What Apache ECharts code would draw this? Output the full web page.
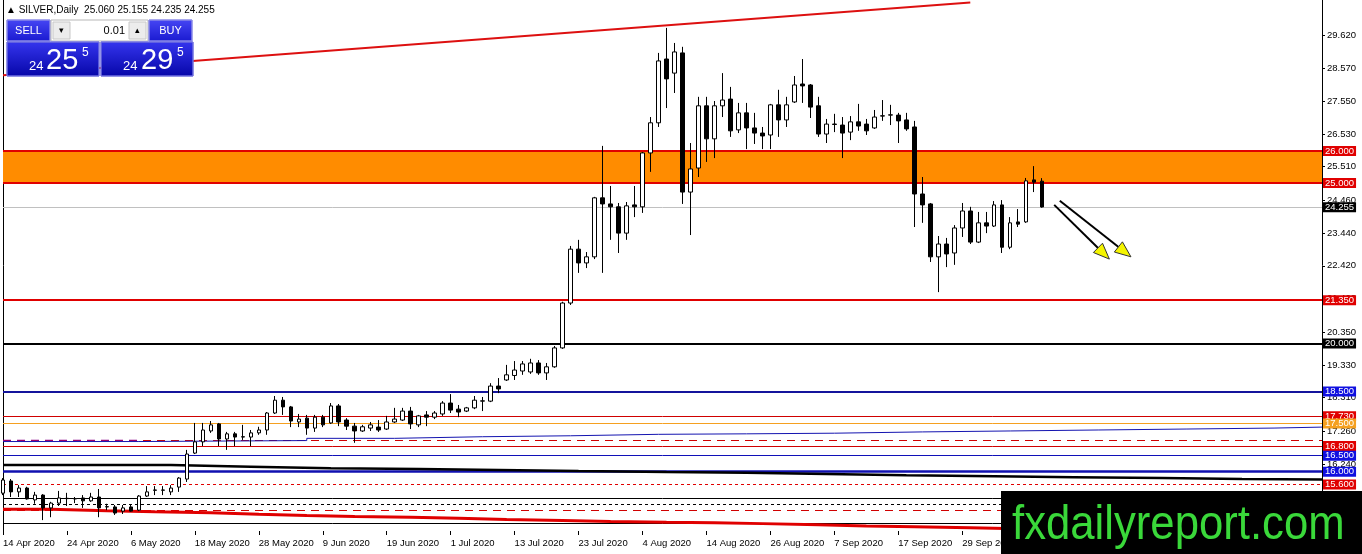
<!DOCTYPE html>
<html><head><meta charset="utf-8">
<script src="https://cdn.jsdelivr.net/npm/echarts@6/dist/echarts.min.js"></script>
<style>html,body{margin:0;padding:0;background:#fff;}#c{width:1362px;height:554px;}</style>
</head><body><div id="c"></div>
<script>
// ---- categories (trading days) ----
const dates = [
'14 Apr 2020','15 Apr 2020','16 Apr 2020','17 Apr 2020','20 Apr 2020','21 Apr 2020','22 Apr 2020','23 Apr 2020','24 Apr 2020','27 Apr 2020','28 Apr 2020','29 Apr 2020','30 Apr 2020',
'1 May 2020','4 May 2020','5 May 2020','6 May 2020','7 May 2020','8 May 2020','11 May 2020','12 May 2020','13 May 2020','14 May 2020','15 May 2020','18 May 2020','19 May 2020','20 May 2020','21 May 2020','22 May 2020','25 May 2020','26 May 2020','27 May 2020','28 May 2020','29 May 2020',
'1 Jun 2020','2 Jun 2020','3 Jun 2020','4 Jun 2020','5 Jun 2020','8 Jun 2020','9 Jun 2020','10 Jun 2020','11 Jun 2020','12 Jun 2020','15 Jun 2020','16 Jun 2020','17 Jun 2020','18 Jun 2020','19 Jun 2020','22 Jun 2020','23 Jun 2020','24 Jun 2020','25 Jun 2020','26 Jun 2020','29 Jun 2020','30 Jun 2020',
'1 Jul 2020','2 Jul 2020','3 Jul 2020','6 Jul 2020','7 Jul 2020','8 Jul 2020','9 Jul 2020','10 Jul 2020','13 Jul 2020','14 Jul 2020','15 Jul 2020','16 Jul 2020','17 Jul 2020','20 Jul 2020','21 Jul 2020','22 Jul 2020','23 Jul 2020','24 Jul 2020','27 Jul 2020','28 Jul 2020','29 Jul 2020','30 Jul 2020','31 Jul 2020',
'3 Aug 2020','4 Aug 2020','5 Aug 2020','6 Aug 2020','7 Aug 2020','10 Aug 2020','11 Aug 2020','12 Aug 2020','13 Aug 2020','14 Aug 2020','17 Aug 2020','18 Aug 2020','19 Aug 2020','20 Aug 2020','21 Aug 2020','24 Aug 2020','25 Aug 2020','26 Aug 2020','27 Aug 2020','28 Aug 2020','31 Aug 2020',
'1 Sep 2020','2 Sep 2020','3 Sep 2020','4 Sep 2020','7 Sep 2020','8 Sep 2020','9 Sep 2020','10 Sep 2020','11 Sep 2020','14 Sep 2020','15 Sep 2020','16 Sep 2020','17 Sep 2020','18 Sep 2020','21 Sep 2020','22 Sep 2020','23 Sep 2020','24 Sep 2020','25 Sep 2020','28 Sep 2020','29 Sep 2020','30 Sep 2020',
'1 Oct 2020','2 Oct 2020','5 Oct 2020','6 Oct 2020','7 Oct 2020','8 Oct 2020','9 Oct 2020','12 Oct 2020','13 Oct 2020'
];
const emptySlots = 35; // empty space right of the last bar

// ---- OHLC ----
const opens = [15.33,15.71,15.37,15.49,15.12,15.27,14.87,15.02,15.16,15.15,15.18,15.09,15.21,14.90,14.90,14.77,14.90,14.80,15.24,15.43,15.42,15.37,15.52,15.77,16.58,16.93,17.27,17.49,17.02,17.18,17.09,17.08,17.21,17.30,17.83,18.23,18.02,17.55,17.67,17.36,17.70,17.52,18.05,17.61,17.42,17.27,17.36,17.39,17.33,17.55,17.61,17.89,17.46,17.77,17.70,17.80,18.14,17.95,17.89,17.99,18.20,18.20,18.67,18.86,19.00,19.14,19.11,19.39,19.08,19.27,19.86,21.26,22.94,22.51,22.70,24.54,24.35,24.26,23.44,24.32,24.26,25.94,26.88,28.87,28.43,29.06,24.72,25.47,27.41,26.38,27.41,27.62,26.66,27.19,26.72,26.56,26.50,27.44,26.97,27.53,28.09,28.06,27.41,26.53,26.84,26.81,26.59,26.91,26.84,26.72,27.09,27.12,27.12,26.97,26.75,24.66,24.35,22.70,23.10,22.82,23.60,24.13,23.16,23.76,23.66,24.32,23.00,23.79,23.79,25.10,25.06];
const closes = [15.74,15.37,15.49,15.15,15.27,14.87,15.02,15.18,15.17,15.16,15.09,15.21,14.87,14.91,14.71,14.87,14.77,15.24,15.37,15.42,15.43,15.49,15.80,16.55,16.93,17.30,17.46,17.02,17.18,17.08,17.08,17.21,17.30,17.83,18.23,18.02,17.58,17.64,17.36,17.70,17.46,18.05,17.55,17.42,17.27,17.40,17.46,17.30,17.55,17.64,17.89,17.49,17.74,17.70,17.83,18.14,17.92,17.86,17.99,18.23,18.21,18.67,18.58,19.02,19.17,19.36,19.39,19.08,19.27,19.86,21.26,22.94,22.51,22.70,24.54,24.35,24.26,23.44,24.29,24.26,25.94,26.88,28.81,28.25,29.09,24.72,25.44,27.41,26.38,27.41,27.59,26.63,27.19,26.72,26.56,26.47,27.44,26.97,27.44,28.06,28.03,27.37,26.53,26.84,26.83,26.56,26.91,26.78,26.63,27.06,27.10,27.13,26.94,26.69,24.66,24.32,22.70,23.10,22.79,23.60,24.13,23.16,23.76,23.66,24.32,23.00,23.76,23.72,25.07,25.03,24.255];
const lows = [15.27,15.21,15.21,15.13,15.00,14.49,14.58,14.93,14.93,15.02,14.87,15.06,14.58,14.80,14.65,14.68,14.75,14.77,15.21,15.27,15.27,15.27,15.37,15.68,16.55,16.80,17.21,16.80,16.68,16.80,16.99,16.80,17.15,17.15,17.80,17.77,17.39,17.39,17.15,17.24,17.39,17.49,17.42,17.30,16.90,17.24,17.27,17.24,17.30,17.52,17.58,17.33,17.39,17.42,17.64,17.74,17.83,17.70,17.86,17.95,17.89,18.17,18.45,18.83,18.86,19.02,19.05,19.02,18.86,19.24,19.83,21.20,22.20,22.35,22.63,22.20,23.23,22.82,23.23,23.94,24.07,25.35,26.75,27.34,27.81,24.35,23.38,25.19,25.66,25.78,27.06,26.44,26.56,26.06,26.22,26.06,26.06,26.44,26.75,27.50,27.50,27.03,26.44,26.25,26.59,25.78,26.34,26.63,26.50,26.69,26.94,26.81,26.25,26.63,23.63,23.76,22.54,21.60,22.38,22.45,23.32,23.10,23.13,23.44,23.63,22.82,22.94,23.63,23.76,24.72,24.235];
const highs = [15.80,15.77,15.58,15.53,15.37,15.30,15.06,15.40,15.34,15.21,15.27,15.34,15.46,15.00,14.96,14.96,14.96,15.27,15.55,15.55,15.55,15.58,15.83,16.68,17.52,17.52,17.58,17.52,17.24,17.24,17.46,17.30,17.40,17.86,18.36,18.33,18.05,17.80,17.77,17.77,17.77,18.14,18.11,17.67,17.52,17.46,17.55,17.61,17.74,17.99,17.99,18.02,17.77,17.89,17.89,18.20,18.42,18.08,18.02,18.36,18.33,18.76,18.92,19.33,19.45,19.45,19.52,19.48,19.39,19.92,21.30,23.04,23.23,22.85,24.57,26.16,24.91,24.38,24.41,24.91,25.97,27.06,29.06,29.84,29.37,29.25,26.25,27.69,27.69,27.56,28.43,28.00,27.50,27.50,27.19,26.75,27.47,27.91,27.69,28.34,28.87,28.09,27.69,27.00,27.16,27.06,27.09,27.47,27.00,27.28,27.59,27.44,27.19,27.19,26.94,25.19,24.38,23.35,23.29,23.69,24.38,24.26,24.10,24.10,24.44,24.47,23.94,24.19,25.16,25.53,25.155];

// ---- axis ticks ----
const yTicks = [29.62,28.57,27.55,26.53,25.51,24.46,23.44,22.42,21.40,20.35,19.33,18.31,17.26,16.24,15.22];
const yMin = 14.15, yMax = 30.71;

// ---- drawn objects (price levels, lines) ----
const labeledLevels = [26.0,25.0,24.255,21.35,20.0,18.5,17.73,17.5,16.8,16.5,16.0,15.6];
const plainLevels = [16.98,15.17,14.98,14.80,14.39];
const band = [25.0,26.0];
const trendLine = [[0,28.36],[121,30.63]];
const purpleDash = [[0,16.98],[17,16.98]];
const blackStep = [[0,16.21],[21,16.155],[31,16.105],[41,16.08],[52,16.05],[62,16.02],[72,15.99],[83,15.97],[93,15.93],[103,15.89],[113,15.855],[124,15.825],[134,15.80],[145,15.77],[155,15.755],[165,15.755]];
const blueStep = [[0,16.94],[17,16.97],[38,17.04],[49,17.09],[60,17.12],[71,17.165],[82,17.18],[93,17.20],[104,17.24],[115,17.27],[126,17.30],[137,17.33],[148,17.36],[159,17.39],[165,17.39]];
const redStep = [[0,14.83],[6,14.78],[13,14.75],[19,14.72],[26,14.67],[32,14.63],[38,14.60],[44,14.58],[51,14.545],[57,14.51],[63,14.48],[70,14.45],[76,14.42],[83,14.41],[89,14.38],[95,14.345],[102,14.305],[108,14.28],[114,14.25],[121,14.22],[127,14.19],[133,14.17]];
const arrowFrom = [[131.5,24.32],[132.2,24.45]];
const arrowTo = [[138.4,22.63],[141.1,22.70]];
const headerText = '\u25B2 SILVER,Daily  25.060 25.155 24.235 24.255';
const sellPrice = ['24','25','5'];
const buyPrice = ['24','29','5'];
const lotText = '0.01';
const watermark = 'fxdailyreport.com';

// ---- styles ----
const FONT = "'Liberation Sans', Arial, sans-serif";
const RED = '#e00000', NAVY = '#14149c', ORANGE = '#f5a020';
const levelStyles = [
  {c:RED,w:2,bg:RED},{c:RED,w:2,bg:RED},{c:'#c0c0c0',w:1,bg:'#000'},{c:RED,w:2,bg:RED},
  {c:'#000',w:2,bg:'#000'},{c:NAVY,w:2,bg:'#1010e0'},{c:'#d00000',w:1,bg:RED},{c:ORANGE,w:1,bg:ORANGE},
  {c:'#d00000',w:1,bg:RED},{c:'#1010b8',w:1,bg:'#1010e0'},{c:'#1010b0',w:2.5,bg:'#1010e0'},{c:RED,w:1,bg:RED,t:[3,3]}
];
const plainStyles = [
  {c:'#d00000',w:1,t:[8,6]},{c:'#000',w:1},{c:'#000',w:1,t:[3,3]},{c:'#d00000',w:1,t:[8,6]},{c:'#000',w:1}
];

const cats = dates.concat(new Array(emptySlots).fill(''));
const candleData = opens.map((o,i)=>[o, closes[i], lows[i], highs[i]]);

const markLineData = labeledLevels.map((v,i)=>({
  yAxis: v,
  lineStyle: {color: levelStyles[i].c, width: levelStyles[i].w, type: levelStyles[i].t || 'solid'},
  label: {show:true, position:'end', distance:1, formatter: ()=>v.toFixed(3), color:'#fff',
          backgroundColor: levelStyles[i].bg, padding:[1,2,0,2], fontSize:9.5, lineHeight:9, fontFamily:FONT}
})).concat(plainLevels.map((v,i)=>({
  yAxis: v,
  lineStyle: {color: plainStyles[i].c, width: plainStyles[i].w, type: plainStyles[i].t || 'solid'},
  label: {show:false}
})));

const chart = echarts.init(document.getElementById('c'), null, {renderer:'canvas'});

function txt(x, y, text, size, color, align, extra) {
  return Object.assign({type:'text', x:x, y:y, z:100,
    style:{text:text, fill:color, font: size + 'px ' + FONT, align: align || 'left', verticalAlign:'middle'}}, extra || {});
}
const panelGrad = {type:'linear', x:0, y:0, x2:0, y2:1, colorStops:[{offset:0,color:'#3535ee'},{offset:1,color:'#0606a8'}]};
const btnGrad = {type:'linear', x:0, y:0, x2:0, y2:1, colorStops:[{offset:0,color:'#4646f4'},{offset:1,color:'#1a1ad0'}]};

const staticGraphics = [
  txt(6, 10.5, headerText, 10, '#000'),
  {type:'rect', z:100, shape:{x:7,y:20,width:43,height:21}, style:{fill:btnGrad, stroke:'#8a8ae8', lineWidth:1}},
  txt(28.5, 30.5, 'SELL', 11, '#fff', 'center'),
  {type:'rect', z:100, shape:{x:51,y:20,width:97,height:21}, style:{fill:'#fff', stroke:'#b8b8b8', lineWidth:1}},
  {type:'rect', z:100, shape:{x:53,y:22,width:17,height:17}, style:{fill:'#ececec', stroke:'#c8c8c8', lineWidth:1}},
  txt(61.5, 31, '\u25BE', 9, '#000', 'center'),
  txt(125, 30.5, lotText, 11, '#000', 'right'),
  {type:'rect', z:100, shape:{x:129,y:22,width:17,height:17}, style:{fill:'#ececec', stroke:'#c8c8c8', lineWidth:1}},
  txt(137.5, 30.5, '\u25B4', 9, '#000', 'center'),
  {type:'rect', z:100, shape:{x:149,y:20,width:43,height:21}, style:{fill:btnGrad, stroke:'#8a8ae8', lineWidth:1}},
  txt(170.5, 30.5, 'BUY', 11, '#fff', 'center'),
  {type:'rect', z:100, shape:{x:7,y:42,width:92,height:34}, style:{fill:panelGrad, stroke:'#7070e0', lineWidth:1}},
  {type:'rect', z:100, shape:{x:101,y:42,width:92,height:34}, style:{fill:panelGrad, stroke:'#7070e0', lineWidth:1}},
  txt(29, 66.5, sellPrice[0], 13, '#fff'),
  txt(46, 60.5, sellPrice[1], 29, '#fff'),
  txt(82, 53, sellPrice[2], 12, '#fff'),
  txt(123, 66.5, buyPrice[0], 13, '#fff'),
  txt(141, 60.5, buyPrice[1], 29, '#fff'),
  txt(177, 53, buyPrice[2], 12, '#fff'),
  {type:'rect', z:200, shape:{x:1001,y:491,width:361,height:63}, style:{fill:'#000'}},
  {type:'text', z:201, x:1012, y:526, scaleX:0.91, originX:0, originY:0,
   style:{text:watermark, fill:'#3ad83a', font:'48px ' + FONT, align:'left', verticalAlign:'middle'}}
];

const option = {
  animation: false,
  backgroundColor: '#fff',
  textStyle: {fontFamily: FONT},
  grid: {left:3, right:40, top:0, bottom:23, containLabel:false},
  xAxis: {
    type:'category', data: cats, boundaryGap:false,
    axisLine:{show:false},
    axisTick:{show:true, interval:7, length:4, lineStyle:{color:'#000'}},
    axisLabel:{interval:7, align:'left', margin:7, fontSize:9.5, color:'#000', fontFamily:FONT},
    splitLine:{show:false}
  },
  yAxis: [{
    type:'value', position:'right', min:yMin, max:yMax, scale:true,
    axisLine:{show:true, lineStyle:{color:'#000', width:1}},
    axisTick:{show:true, length:3, customValues:yTicks, lineStyle:{color:'#000'}},
    axisLabel:{customValues:yTicks, formatter:(v)=>v.toFixed(3), margin:5, fontSize:9.5, color:'#000', fontFamily:FONT},
    splitLine:{show:false}
  },{
    type:'value', position:'left', min:yMin, max:yMax,
    axisLine:{show:true, lineStyle:{color:'#000', width:1}},
    axisTick:{show:false}, axisLabel:{show:false}, splitLine:{show:false}
  }],
  series: [
    {
      type:'candlestick', name:'SILVER', data:candleData, z:3, barWidth:4, silent:true,
      itemStyle:{color:'#fff', color0:'#000', borderColor:'#000', borderColor0:'#000', borderWidth:1},
      markArea:{silent:true, z:1, itemStyle:{color:'#ff8c00', opacity:1},
        data:[[{yAxis:band[0]},{yAxis:band[1]}]]},
      markLine:{silent:true, z:1.5, symbol:'none', animation:false, data:markLineData}
    },
    {type:'line', data:blackStep, step:'end', symbol:'none', z:2, silent:true, lineStyle:{color:'#000', width:2.5}},
    {type:'line', data:blueStep, step:'end', symbol:'none', z:2, silent:true, lineStyle:{color:'#1414b0', width:1}},
    {type:'line', data:redStep, step:'end', symbol:'none', z:2, silent:true, lineStyle:{color:'#e00000', width:3}},
    {type:'line', data:purpleDash, symbol:'none', z:2, silent:true, lineStyle:{color:'#8a008a', width:1, type:[8,6]}},
    {type:'line', data:trendLine, symbol:'none', z:2, silent:true, lineStyle:{color:'#dd1010', width:2}}
  ],
  graphic: staticGraphics
};
chart.setOption(option);

// arrows positioned through the chart's own scales
function toPx(idx, price) {
  const i0 = Math.floor(idx), f = idx - i0;
  const a = chart.convertToPixel({xAxisIndex:0, yAxisIndex:0}, [i0, price]);
  const b = chart.convertToPixel({xAxisIndex:0, yAxisIndex:0}, [i0 + 1, price]);
  return [a[0] + (b[0] - a[0]) * f, a[1]];
}
const arrowGraphics = [];
arrowFrom.forEach((s, i) => {
  const a = toPx(s[0], s[1]), b = toPx(arrowTo[i][0], arrowTo[i][1]);
  const dx = b[0]-a[0], dy = b[1]-a[1], L = Math.hypot(dx, dy), ux = dx/L, uy = dy/L;
  const hl = 16, hw = 6.5, bx = b[0]-ux*hl, by = b[1]-uy*hl, px = -uy, py = ux;
  arrowGraphics.push({type:'line', z:50, shape:{x1:a[0], y1:a[1], x2:bx+ux*3, y2:by+uy*3}, style:{stroke:'#000', lineWidth:2}});
  arrowGraphics.push({type:'polygon', z:51, shape:{points:[[b[0],b[1]],[bx+px*hw,by+py*hw],[bx-px*hw,by-py*hw]]},
    style:{fill:'#f4f400', stroke:'#333', lineWidth:1}});
});
chart.setOption({graphic: staticGraphics.concat(arrowGraphics)});
</script>
</body></html>
